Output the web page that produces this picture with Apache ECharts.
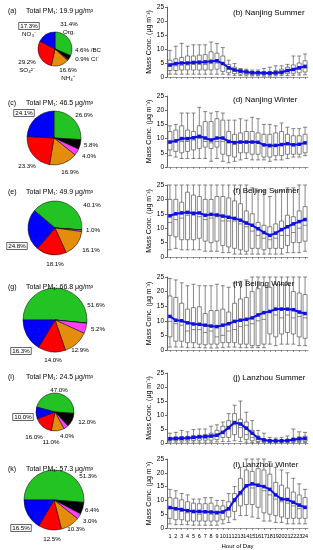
<!DOCTYPE html>
<html><head><meta charset="utf-8">
<script src="https://cdn.jsdelivr.net/npm/echarts@6/dist/echarts.min.js"></script>
<style>html,body{margin:0;padding:0;background:#fff}#c{width:313px;height:550px}</style>
</head><body><div id="c"></div>
<script>
// ---------- DATA ----------
const hours = ['1','2','3','4','5','6','7','8','9','10','11','12','13','14','15','16','17','18','19','20','21','22','23','24'];
const species = ['Org.', 'BC', 'Cl⁻', 'NH₄⁺', 'SO₄²⁻', 'NO₃⁻'];
const pieLetters = ['(a)','(c)','(e)','(g)','(i)','(k)'];
const totalPM1 = [19.9, 46.5, 49.9, 66.8, 24.5, 57.3];
const fracA = [31.4, 4.6, 0.9, 16.6, 29.2, 17.3];
const fracC = [26.0, 5.8, 4.0, 16.9, 23.3, 24.1];
const fracE = [40.1, 0, 1.0, 16.1, 18.1, 24.8];
const fracG = [51.6, 0, 5.2, 12.9, 14.0, 16.3];
const fracI = [47.0, 12.0, 4.0, 11.0, 16.0, 10.0];
const fracK = [51.3, 6.4, 3.0, 10.3, 12.5, 16.5];
const panelTitles = ['(b) Nanjing Summer','(d) Nanjing Winter','(f) Beijing Summer','(h) Beijing Winter','(j) Lanzhou Summer','(l) Lanzhou Winter'];
const yTicks = [0, 5, 10, 15, 20, 25];

// Nanjing Summer
const nsLow  = [1,1,1,1,1,1,1,1,1,1,0.8,0.6,0.5,0.4,0.4,0.4,0.3,0.3,0.4,0.5,0.5,0.6,0.7,0.8];
const nsQ1   = [2.3,2.3,2.5,2.5,2.5,2.5,2.5,2.5,2.8,2.0,1.5,1.2,1.0,0.8,0.7,0.7,0.7,0.7,0.8,1.0,1.2,1.3,1.5,1.8];
const nsMed  = [3.8,4.0,4.2,4.3,4.5,4.5,4.5,4.8,5.0,4.5,2.8,2.2,1.8,1.5,1.3,1.2,1.2,1.1,1.3,1.6,2.0,2.5,2.8,3.2];
const nsQ3   = [6.0,6.5,7.0,7.5,7.5,7.8,8.0,9.0,8.5,7.5,4.5,3.5,2.8,2.4,2.0,2.0,2.0,2.0,2.3,2.8,3.5,4.3,5.0,5.8];
const nsHigh = [9.5,11,12,11,11.5,11.5,11.5,12.5,12,10.5,6,4.8,3,2.8,2.5,2.5,3,3.5,4,4,4.5,7.5,7.5,8.2];
const nsMean = [4.3,4.8,5.0,5.0,5.2,5.3,5.4,5.6,5.8,4.8,3.3,2.5,2.1,1.8,1.5,1.5,1.4,1.4,1.5,1.7,2.3,2.7,3.3,3.8];
// Nanjing Winter
const nwLow  = [4,3.5,3,3,3,3,3,2,3,2,1.5,2,2.5,3,2.5,2.5,2.5,2,2.5,2.5,3,3.5,3.5,4];
const nwQ1   = [6,5.5,5,5.5,6,6.5,7,6.5,7,4.5,4,3.5,5,5,4.5,4.5,3.5,3.5,4,4,4.5,4.5,4.5,5];
const nwMed  = [8.5,8.8,9,9,9.5,10,9,8.5,9,9,8.5,8,8.5,8.5,8.5,8.5,7.5,7,7.5,7.5,8,7.5,8,8.5];
const nwQ3   = [12.5,13,14.5,13,12.5,14.5,16,16,17,16.5,12.5,11.5,12,12.5,12.5,12,11.5,11.5,12,12.5,11.5,11,11,11.5];
const nwHigh = [14.5,15,19,19,19,21,19.5,19,19.5,19,16.5,16.5,17,16.5,17.5,17,15,15,14.5,15.5,14,13.5,13.5,14];
const nwMean = [8.8,9.2,10,10,10.3,10.8,10.2,9.5,10.2,10.2,9,8.6,8.8,8.8,8.8,8.7,7.8,7.6,7.6,7.9,8.2,7.8,8.0,8.5];
// Beijing Summer
const bsLow  = [2.5,3,2.5,2.5,2.5,2.5,2,2,2,1.5,1.5,1,1,1,1,1,1,1,1,1,1.5,1.5,1.5,2];
const bsQ1   = [7.5,7,6,6,6,6.5,5.5,5,5.5,4,3.5,3,2.5,2,3,3,2.5,3,3,3,4,5,5,5.5];
const bsMed  = [12,13,13.5,14.5,14.5,14,13,13.5,14,12.5,12.5,12.5,11.5,10.5,9,7.5,6.5,6,6.5,7.5,7.5,8.5,10,11];
const bsQ3   = [20,20,19,22.5,21.5,21,20,20,21,21,20.5,19.5,18.5,16,15,12,11,10.5,11.5,12.5,14.5,14,16,17.5];
const bsHigh = [25,25,25,25,25,25,25,25,25,25,25,25,25,25,24,23,23,21,23,23,24,24,25,25];
const bsMean = [14.3,15.0,15.3,15.5,15.2,15.3,14.5,14.8,14.6,14.2,13.8,13.4,12.8,11.8,11.0,9.8,8.5,7.5,8.3,9.5,10.5,11.5,12.3,13.0];
// Beijing Winter
const bwLow  = [1,1,1,0.8,0.8,0.8,0.7,0.7,0.7,0.8,1,1,0.8,0.8,0.8,0.8,0.8,2,1.5,2,2,2,1.5,1.5];
const bwQ1   = [4.5,3,3,2.5,2.5,2,1.8,2,2,2.5,2.5,2.5,2,2,1.5,1.5,2,5.5,4.5,5.5,6,5.5,4.5,4];
const bwMed  = [9.8,9,8.5,6.5,7,7,6,6.5,4.5,5,6.5,7,8,8.5,9,10,10.5,13,12,11,12,11,11.5,11];
const bwQ3   = [18.5,18,16,14,14.5,14.8,12.5,13.5,13.5,14,13,16,17.5,18,20,21,22,21.5,22.5,22.5,22.5,20,19.5,19];
const bwHigh = [24.5,24,23,22,22.5,22,22,22,22.5,22,21.5,23,23.5,24,25,25,25,25,25,25,25,25,25,25];
const bwMean = [11.5,10.2,10.0,9.3,8.9,8.8,8.5,8.2,8.0,8.5,9.0,9.8,10.2,10.5,11.0,12.0,12.8,13.2,14.0,14.0,14.0,13.8,13.0,12.5];
// Lanzhou Summer
const lsLow  = [0.3,0.3,0.3,0.3,0.3,0.3,0.3,0.3,0.4,0.5,0.5,0.8,0.5,0.3,0.2,0.2,0.1,0.1,0.1,0.1,0.1,0.1,0.2,0.2];
const lsQ1   = [0.8,0.8,0.8,0.8,0.9,1,1,1,1.2,2,2,3,2,1.2,0.8,0.5,0.4,0.3,0.3,0.3,0.3,0.4,0.5,0.6];
const lsMed  = [1.3,1.4,1.5,1.5,1.6,1.8,1.8,2,2.5,3.5,5,6.5,5.5,3,2,1.2,0.8,0.6,0.6,0.6,0.7,0.9,1.1,1.2];
const lsQ3   = [2,2.2,2.3,2.4,2.6,2.8,3,3.5,4.5,6,8,10.5,8.5,7.5,4.5,2.5,1.5,1,1,1.1,1.3,1.8,2.2,2.4];
const lsHigh = [3.5,3.8,4.5,4,4.8,5,5,6,6.5,7.5,10.5,13.5,15,11,8,4.5,3.5,2,1.8,2,2.5,5,4,3.8];
const lsMean = [1.5,1.6,1.7,1.8,2.0,2.2,2.3,2.5,2.8,3.8,5.5,7.3,6.8,5.3,3.5,1.8,1.1,0.8,0.8,0.8,0.9,1.2,1.5,1.6];
// Lanzhou Winter
const lwLow  = [1.5,1.2,1.2,1.2,1,1,1,1,1,1.5,2,3,4.5,4.5,4,3.5,2.5,2.5,2,2,1.5,1.5,1.5,1.5];
const lwQ1   = [3.5,3,3,2.5,2.5,2.5,2.5,2.5,2.5,3,4,6,8,8.5,8.5,7.5,5.5,5,4.5,4,3.5,3.5,3.5,3.5];
const lwMed  = [7,6.5,6,5.5,5.5,5,5.5,5,5,5.5,6.5,9.5,12,15,14.5,15,13.5,12,10.5,9.5,9,8,7,7];
const lwQ3   = [11,10.8,10.2,9.5,9,8.8,8.8,9,8,8,9.5,12.5,18,21,20.5,21.5,21,19.5,16.5,15.5,14.5,13,12,11];
const lwHigh = [14,13.5,12.5,12,10.5,10.5,11,11,10,10,12.5,15,22,25,25,25,25,24,22,21,20,18,16,14];
const lwMean = [7.4,7.0,6.7,6.3,6.0,6.0,5.9,5.8,5.6,5.8,7.0,10.2,12.8,15.3,16.0,15.5,15.0,14.0,12.0,10.5,10.3,9.3,8.3,7.5];

// ---------- LAYOUT / STYLE ----------
const FONT = '"Liberation Sans", Arial, sans-serif';
const pieFracs = [fracA, fracC, fracE, fracG, fracI, fracK];
const pieCenters = [[55,49],[54,138],[55,228],[55,320],[55,412],[54,500]];
const pieRadii = [17,27,27,32,19,30];
const pieStart = [90,90,140,180,165,180];
const pieTitleTop = [3,95,184,279,369,461];
// label anchor positions (centre of label block) per pie, per slice: Org, BC, Cl, NH4, SO4, NO3
const pieLabelPos = [
  [[69,28],[88,50],[87,59],[68,74],[27,66],[29,30]],
  [[84,115],[91,145],[89,156],[70,172],[27,166],[24,113]],
  [[92,205],null,[93,230],[91,250],[55,264],[17,246]],
  [[96,305],null,[98,329],[80,350],[53,360],[21,351]],
  [[59,390],[87,422],[67,436],[51,442],[34,437],[23,417]],
  [[88,476],[92,510],[90,521],[76,529],[52,539],[21,528]]
];
const sliceColors = ['#22c322','#000000','#ff40ff','#e48c0c','#ff0000','#0000ff'];
const gridTops = [7,96,185,277,373,459];
const gridHeights = [70,71,72,73,70,71];
const panelTitleTop = [4,91,182,275,369,456];
const boxStats = [
  [nsLow,nsQ1,nsMed,nsQ3,nsHigh,nsMean],
  [nwLow,nwQ1,nwMed,nwQ3,nwHigh,nwMean],
  [bsLow,bsQ1,bsMed,bsQ3,bsHigh,bsMean],
  [bwLow,bwQ1,bwMed,bwQ3,bwHigh,bwMean],
  [lsLow,lsQ1,lsMed,lsQ3,lsHigh,lsMean],
  [lwLow,lwQ1,lwMed,lwQ3,lwHigh,lwMean]
];

const chart = echarts.init(document.getElementById('c'), null, {renderer:'canvas', width:313, height:550});

const titles = [];
const grids = [], xAxes = [], yAxes = [], series = [];

pieFracs.forEach((fr, i) => {
  titles.push({text: pieLetters[i], left: 3, top: pieTitleTop[i], textStyle:{fontSize:7, fontWeight:'normal', fontFamily:FONT, color:'#000'}});
  titles.push({text: 'Total PM₁: ' + totalPM1[i].toFixed(1) + ' μg/m³', left: 21, top: pieTitleTop[i], textStyle:{fontSize:7, fontWeight:'normal', fontFamily:FONT, color:'#000'}});
  series.push({
    type:'pie', center: pieCenters[i], radius: pieRadii[i], startAngle: pieStart[i], clockwise:true,
    silent:true, animation:false, minShowLabelAngle: 0.5, avoidLabelOverlap: false,
    itemStyle:{borderColor:'#000', borderWidth:0.5},
    labelLine:{show:false, length:3, length2:0},
    label:{show:true, position:'outside', fontSize:6.2, fontFamily:FONT, color:'#000', lineHeight:8, align:'center',
      formatter: p => {
        const pct = p.value.toFixed(1) + '%';
        const box = p.dataIndex === 5;
        const pt = box ? '{box|' + pct + '}' : pct;
        if (i === 0) {
          if (p.dataIndex === 1) return pct + ' /' + species[1];
          if (p.dataIndex === 2) return pct + ' ' + species[2];
          return pt + '\n' + species[p.dataIndex];
        }
        return pt;
      },
      rich:{box:{borderColor:'#000', borderWidth:0.6, padding:[1,1.5,0,1.5], fontSize:6.2, fontFamily:FONT, color:'#000'}}
    },
    labelLayout: p => {
      const pos = pieLabelPos[i][p.dataIndex];
      return pos ? {x: pos[0], y: pos[1], align:'center', verticalAlign:'middle'} : {};
    },
    data: fr.map((v, j) => ({name: species[j], value: v, itemStyle:{color: sliceColors[j]}}))
  });
});

boxStats.forEach((st, i) => {
  const last = i === boxStats.length - 1;
  grids.push({left:167, right:5, top: gridTops[i], height: gridHeights[i]});
  titles.push({text: panelTitles[i], left: 228, top: panelTitleTop[i], textStyle:{fontSize:8, fontWeight:'normal', fontFamily:FONT, color:'#000'}});
  xAxes.push({type:'category', gridIndex:i, data: hours, offset:3, boundaryGap:true,
    axisLine:{show:true, lineStyle:{color:'#555', width:0.6}},
    axisTick:{show:true, alignWithLabel:true, interval:0, length:2, lineStyle:{color:'#555', width:0.6}},
    axisLabel:{show:last, interval:0, fontSize:5.5, margin:2, fontFamily:FONT, color:'#000'},
    name: last ? 'Hour of Day' : '', nameLocation:'middle', nameGap:12, nameTextStyle:{fontSize:6, fontFamily:FONT, color:'#000'}
  });
  yAxes.push({type:'value', gridIndex:i, min: yTicks[0], max: yTicks[yTicks.length-1], interval: yTicks[1]-yTicks[0],
    axisLine:{show:true, lineStyle:{color:'#000', width:0.6}},
    axisTick:{show:true, length:2, lineStyle:{color:'#000', width:0.6}},
    splitLine:{show:false},
    axisLabel:{fontSize:6.5, margin:3, fontFamily:FONT, color:'#000'},
    name:'Mass Conc. (μg m⁻³)', nameLocation:'middle', nameGap:10, nameRotate:90,
    nameTextStyle:{fontSize:7, fontFamily:FONT, color:'#000'}
  });
  series.push({type:'boxplot', xAxisIndex:i, yAxisIndex:i, silent:true, animation:false,
    boxWidth:[4,4],
    itemStyle:{color:'#fff', borderColor:'#555', borderWidth:0.7},
    data: hours.map((h,k) => [st[0][k], st[1][k], st[2][k], st[3][k], st[4][k]])
  });
  series.push({type:'line', xAxisIndex:i, yAxisIndex:i, silent:true, animation:false,
    data: st[5], symbol:'rect', symbolSize:3.5, z:5,
    lineStyle:{color:'#1010e0', width:2}, itemStyle:{color:'#1010e0'}
  });
});

chart.setOption({animation:false, backgroundColor:'#fff', title: titles, grid: grids, xAxis: xAxes, yAxis: yAxes, series: series});
</script>
</body></html>
